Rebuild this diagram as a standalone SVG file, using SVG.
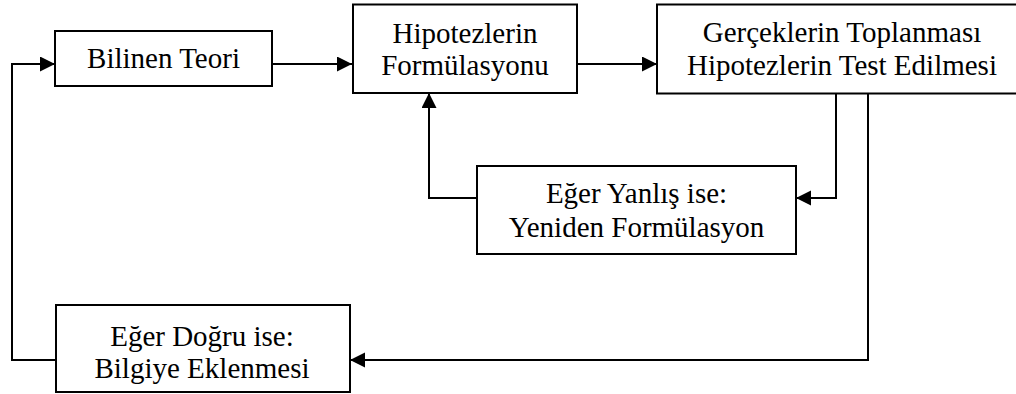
<svg xmlns="http://www.w3.org/2000/svg" width="1016" height="394" viewBox="0 0 1016 394">
<style>
.box{fill:#fff;stroke:#000;stroke-width:2}
.lbl{font-family:"Liberation Serif","Times New Roman",serif;font-size:29px;fill:#000;text-anchor:middle}
.conn{fill:none;stroke:#000;stroke-width:2}
</style>
<defs>
<marker id="arr" markerUnits="userSpaceOnUse" markerWidth="16" markerHeight="16" refX="15" refY="7.5" orient="auto">
<path d="M0,0 L15,7.5 L0,15 z" fill="#000"/>
</marker>
</defs>
<rect width="1016" height="394" fill="#fff"/>
<g id="connectors">
<path class="conn" d="M272,64 H352" marker-end="url(#arr)"/>
<path class="conn" d="M577,64 H657" marker-end="url(#arr)"/>
<path class="conn" d="M836,94 V198 H796" marker-end="url(#arr)"/>
<path class="conn" d="M477,198 H429 V93" marker-end="url(#arr)"/>
<path class="conn" d="M868,94 V360 H350" marker-end="url(#arr)"/>
<path class="conn" d="M56,360 H12 V64 H55" marker-end="url(#arr)"/>
</g>
<g id="n1">
<rect class="box" x="55" y="31" width="217" height="55"/>
<text class="lbl" x="163.5" y="68">Bilinen Teori</text>
</g>
<g id="n2">
<rect class="box" x="353" y="4.5" width="224" height="88.5"/>
<text class="lbl" x="465" y="43">Hipotezlerin</text>
<text class="lbl" x="465" y="75">Formülasyonu</text>
</g>
<g id="n3">
<rect class="box" x="657" y="4.5" width="372" height="89"/>
<text class="lbl" x="842" y="42">Gerçeklerin Toplanması</text>
<text class="lbl" x="842" y="75">Hipotezlerin Test Edilmesi</text>
</g>
<g id="n4">
<rect class="box" x="477" y="166" width="319" height="88"/>
<text class="lbl" x="636.5" y="203">Eğer Yanlış ise:</text>
<text class="lbl" x="636.5" y="237">Yeniden Formülasyon</text>
</g>
<g id="n5">
<rect class="box" x="56" y="305" width="294" height="87"/>
<text class="lbl" x="202" y="346">Eğer Doğru ise:</text>
<text class="lbl" x="202" y="378">Bilgiye Eklenmesi</text>
</g>
</svg>
